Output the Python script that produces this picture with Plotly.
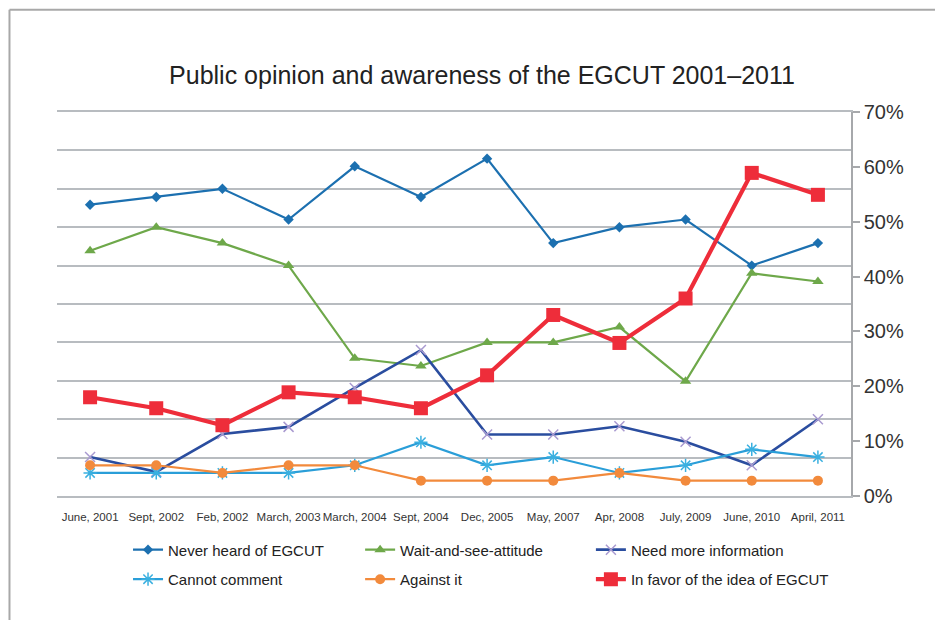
import plotly.graph_objects as go

categories = ["June, 2001", "Sept, 2002", "Feb, 2002", "March, 2003", "March, 2004", "Sept, 2004",
              "Dec, 2005", "May, 2007", "Apr, 2008", "July, 2009", "June, 2010", "April, 2011"]

never_heard = [53.1, 54.5, 56.0, 50.4, 60.1, 54.5, 61.5, 46.1, 49.0, 50.4, 42.0, 46.1]
wait_and_see = [44.7, 49.0, 46.1, 42.0, 25.1, 23.7, 28.0, 28.0, 30.8, 20.9, 40.6, 39.1]
need_more_info = [7.1, 4.4, 11.3, 12.6, 19.7, 26.6, 11.2, 11.2, 12.7, 9.9, 5.6, 14.0]
cannot_comment = [4.2, 4.2, 4.2, 4.2, 5.6, 9.8, 5.6, 7.1, 4.2, 5.6, 8.5, 7.1]
against_it = [5.6, 5.6, 4.2, 5.6, 5.6, 2.8, 2.8, 2.8, 4.2, 2.8, 2.8, 2.8]
in_favor = [18.0, 16.0, 12.9, 18.9, 18.0, 16.0, 22.0, 33.0, 27.9, 36.0, 58.9, 54.9]

right_ticks = [0, 10, 20, 30, 40, 50, 60, 70]
right_tick_labels = ["0%", "10%", "20%", "30%", "40%", "50%", "60%", "70%"]

# (name, values, line colour, line width, marker, legend column)
series = [
    ("Never heard of EGCUT", never_heard, "#1c70b0", 2.2,
     dict(symbol="diamond", size=8, color="#1c70b0"), "legend"),
    ("Wait-and-see-attitude", wait_and_see, "#6ea84a", 2.2,
     dict(symbol="triangle-up", size=10, color="#6ea84a"), "legend2"),
    ("Need more information", need_more_info, "#2a4d9f", 2.6,
     dict(symbol="x-thin-open", size=10, color="#a99ad0", line=dict(width=1.5, color="#a99ad0")), "legend3"),
    ("Cannot comment", cannot_comment, "#2a9ed8", 2.2,
     dict(symbol="asterisk-open", size=11, color="#3ab0e0", line=dict(width=1.5, color="#3ab0e0")), "legend"),
    ("Against it", against_it, "#f28a3c", 2.2,
     dict(symbol="circle", size=10, color="#f28a3c"), "legend2"),
    ("In favor of the idea of EGCUT", in_favor, "#ee2d3a", 4.2,
     dict(symbol="square", size=14, color="#ee2d3a"), "legend3"),
]

fig = go.Figure()
for name, vals, color, width, marker, leg in series:
    fig.add_trace(go.Scatter(x=categories, y=vals, name=name, mode="lines+markers",
                             line=dict(color=color, width=width), marker=marker, yaxis="y",
                             legend=leg, legendgroup=name))

# invisible trace to activate the right-hand percentage axis
fig.add_trace(go.Scatter(x=categories, y=never_heard, yaxis="y2", mode="lines",
                         line=dict(width=0), showlegend=False, hoverinfo="skip", opacity=0))

# page is offset by the 8px body margin; figure coords = page coords - 8
PL, PR, PT, PB = 49, 842.7, 103.7, 488.5
PW, PH = PR - PL, PB - PT


def px(fx):
    return (fx - PL) / PW


def py(fy):
    return (PB - fy) / PH


legend_common = dict(orientation="v", yanchor="top", y=py(526), xanchor="left",
                     font=dict(size=15, color="#222222"), traceorder="grouped",
                     tracegroupgap=7, bgcolor="rgba(0,0,0,0)")

fig.update_layout(
    width=943, height=620,
    paper_bgcolor="white", plot_bgcolor="white",
    margin=dict(l=PL, r=943 - PR, t=PT, b=620 - PB, autoexpand=False),
    title=dict(text="Public opinion and awareness of the EGCUT 2001–2011",
               x=474 / 943, xanchor="center", y=1 - 67 / 620, yanchor="middle",
               font=dict(family="Liberation Sans, Arial", size=25, color="#222222")),
    font=dict(family="Liberation Sans, Arial", color="#333333"),
    xaxis=dict(type="category", range=[-0.5, len(categories) - 0.5], showgrid=False,
               showline=True, mirror=True, linecolor="#b8bcc0", linewidth=1.5,
               ticks="outside", ticklen=9, tickcolor="rgba(0,0,0,0)", tickangle=0,
               tickfont=dict(size=11.5, color="#333333"), zeroline=False),
    yaxis=dict(range=[0, 70], tick0=0, dtick=7, showgrid=True, gridcolor="#b8bcc0", gridwidth=1.5,
               showticklabels=False, zeroline=False, showline=False, ticks=""),
    yaxis2=dict(range=[0, 70], overlaying="y", side="right", tickvals=right_ticks,
                ticktext=right_tick_labels, showgrid=False, zeroline=False,
                showline=True, linecolor="#a6a8ab", linewidth=1.5, ticks="outside",
                ticklen=7, tickcolor="#a6a8ab", tickwidth=1.5,
                tickfont=dict(size=20, color="#333333")),
    legend=dict(x=px(120), **legend_common),
    legend2=dict(x=px(352), **legend_common),
    legend3=dict(x=px(582.7), **legend_common),
    shapes=[
        dict(type="line", xref="paper", yref="paper", x0=px(1.5), x1=px(1.5), y0=py(630), y1=py(1.3),
             line=dict(color="#a8a8a8", width=2)),
        dict(type="line", xref="paper", yref="paper", x0=px(1.5), x1=px(960), y0=py(1.3), y1=py(1.3),
             line=dict(color="#a8a8a8", width=2)),
    ],
)

fig.write_html("out.html")
